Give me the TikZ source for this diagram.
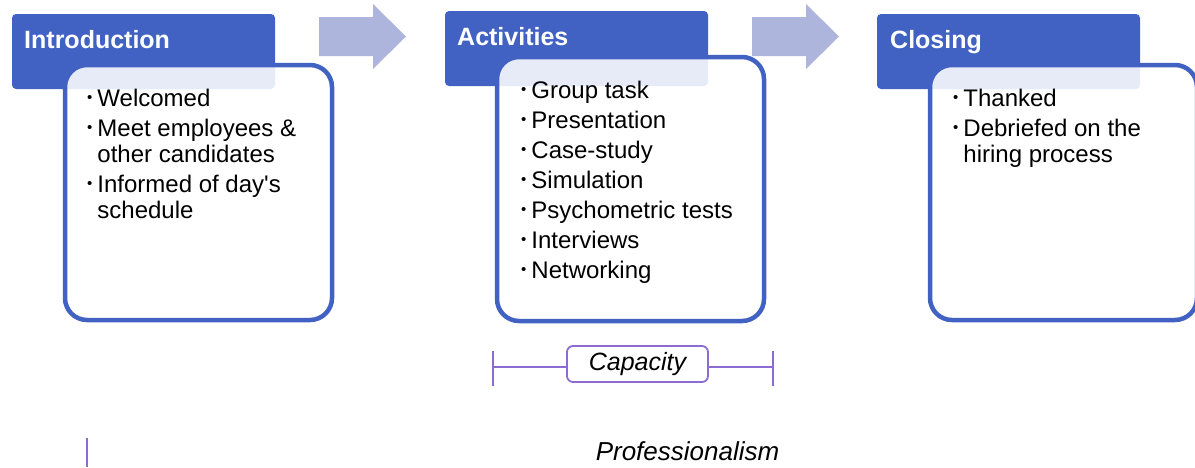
\documentclass[tikz,border=0pt]{standalone}
\usepackage{fontspec}
\setmainfont{Liberation Sans}[Ligatures=TeXOff]

\definecolor{hdrblue}{RGB}{65,98,195}
\definecolor{arrowblue}{RGB}{173,181,220}
\definecolor{linepurple}{RGB}{140,108,210}
\newcommand{\bul}{\raisebox{3.5pt}{\fontsize{15}{15}\selectfont\textbullet}}

\begin{document}
\begin{tikzpicture}[x=1pt,y=-1pt,
    header/.style={fill=hdrblue, rounded corners=4pt, minimum width=263pt,
                   minimum height=75pt, inner sep=0pt, outer sep=0pt, anchor=north west},
    body/.style={draw=hdrblue, line width=4.5pt, fill=white, fill opacity=0.88,
                 rounded corners=22pt, minimum width=267pt, inner sep=0pt,
                 outer sep=0pt, anchor=north west},
    title/.style={text=white, font=\fontsize{25}{28}\selectfont\bfseries,
                  anchor=base west, inner sep=0pt},
    items/.style={font=\fontsize{24}{26}\selectfont, anchor=base west, inner sep=0pt},
    bracket/.style={draw=linepurple, line width=1.8pt}]
    \useasboundingbox (0,0) rectangle (1195,467);

    % Flow arrows
    \foreach \x in {319,752}
        \fill[arrowblue] (\x,17) -- ++(54,0) -- ++(0,-13) -- ++(33,32.5)
            -- ++(-33,32.5) -- ++(0,-13) -- ++(-54,0) -- cycle;

    % Headers
    \node[header] (intro) at (12,14) {};
    \node[header] (activ) at (445,11) {};
    \node[header] (closing) at (877,14) {};

    % Boxes
    \node[body, minimum height=255pt] (introB) at (65,65) {};
    \node[body, minimum height=264pt] (activB) at (497,57) {};
    \node[body, minimum height=255pt] (closingB) at (930,65) {};

    % Titles
    \node[title] (introT) at (24,48) {Introduction};
    \node[title] (activT) at (457,45) {Activities};
    \node[title] (closingT) at (890,48) {Closing};

    % Lists
    \node[items] (introL) at (87,106) {\begin{tabular}[t]{@{}l@{\hspace{5pt}}l@{}}
        \bul & Welcomed\\[4pt]
        \bul & Meet employees \&\\
             & other candidates\\[4pt]
        \bul & Informed of day\textquotesingle s\\
             & schedule
    \end{tabular}};
    \node[items] (activL) at (521,98) {\begin{tabular}[t]{@{}l@{\hspace{5pt}}l@{}}
        \bul & Group task\\[4pt]
        \bul & Presentation\\[4pt]
        \bul & Case-study\\[4pt]
        \bul & Simulation\\[4pt]
        \bul & Psychometric tests\\[4pt]
        \bul & Interviews\\[4pt]
        \bul & Networking
    \end{tabular}};
    \node[items] (closingL) at (953,106) {\begin{tabular}[t]{@{}l@{\hspace{5pt}}l@{}}
        \bul & Thanked\\[4pt]
        \bul & Debriefed on the\\
             & hiring process
    \end{tabular}};

    % Capacity bracket
    \node[bracket, rounded corners=6pt, minimum width=141pt, minimum height=36pt,
          inner sep=0pt, font=\fontsize{25}{28}\selectfont\itshape] (cap) at (637.5,364) {Capacity};
    \coordinate (capL) at (493,367);
    \coordinate (capR) at (773,367);
    \draw[bracket] (capL) -- (cap.west |- capL);
    \draw[bracket] (cap.east |- capR) -- (capR);
    \draw[bracket] ([yshift=-19pt]capL) -- ([yshift=16pt]capL);
    \draw[bracket] ([yshift=-19pt]capR) -- ([yshift=16pt]capR);

    % Professionalism
    \node[font=\fontsize{26}{28}\selectfont\itshape, anchor=base, inner sep=0pt] (prof) at (687.5,460) {Professionalism};
    \coordinate (profL) at (87,438);
    \draw[bracket] (profL) -- (87,467);
\end{tikzpicture}
\end{document}
